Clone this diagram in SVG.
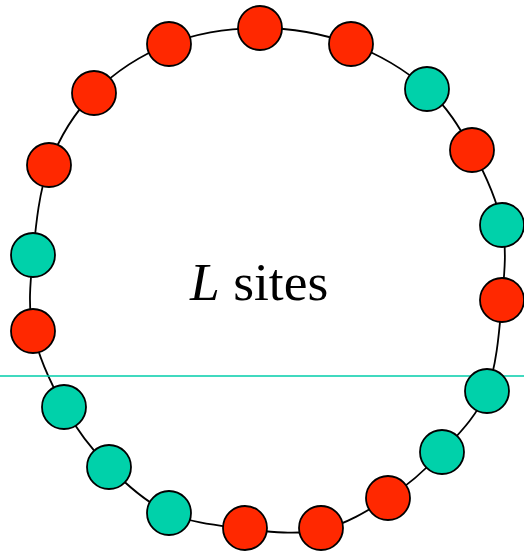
<svg xmlns="http://www.w3.org/2000/svg" width="524" height="553" viewBox="0 0 524 553">
<style>
.ring{fill:none;stroke:#000;stroke-width:1.8}
.site{stroke:#000;stroke-width:1.8}
.red{fill:#ff2800}
.teal{fill:#00d1aa}
.guide{stroke:#00ccaa;stroke-width:1.4}
.lbl{font-family:"Liberation Serif","Times New Roman",serif;font-size:53.5px;fill:#000}
</style>
<rect width="524" height="553" fill="#fff"/>
<g id="connectors">
<path class="ring" d="M260,28 C290.3,28 323.2,33.8 351,44 C378.8,54.2 406.8,71.3 427,89 C447.2,106.7 459.5,127.3 472,150 C484.5,172.7 497,200 502,225 C507,250 504.5,272.3 502,300 C499.5,327.7 497,365.7 487,391 C477,416.3 458.5,434.2 442,452 C425.5,469.8 408.2,485.3 388,498 C367.8,510.7 344.8,525 321,530 C297.2,535 270.3,532 245,529 C219.7,525.5 191.7,523.2 169,513 C146.3,502.8 126.5,484.7 109,467 C91.5,449.3 76.7,429.7 64,407 C51.3,384.3 38.2,356.3 33,331 C27.8,305.7 30.3,282.7 33,255 C35.7,227.3 38.8,192 49,165 C59.2,138 74,113.2 94,93 C114,72.8 141.3,54.8 169,44 C196.7,33.2 229.7,28 260,28 Z"/>
<line class="guide" x1="0" y1="376" x2="524" y2="376"/>
</g>
<g id="s1"><circle class="site red" cx="260" cy="28" r="22"/></g>
<g id="s2"><circle class="site red" cx="351" cy="44" r="22"/></g>
<g id="s3"><circle class="site teal" cx="427" cy="89" r="22"/></g>
<g id="s4"><circle class="site red" cx="472" cy="150" r="22"/></g>
<g id="s5"><circle class="site teal" cx="502" cy="225" r="22"/></g>
<g id="s6"><circle class="site red" cx="502" cy="300" r="22"/></g>
<g id="s7"><circle class="site teal" cx="487" cy="391" r="22"/></g>
<g id="s8"><circle class="site teal" cx="442" cy="452" r="22"/></g>
<g id="s9"><circle class="site red" cx="388" cy="498" r="22"/></g>
<g id="s10"><circle class="site red" cx="321" cy="528" r="22"/></g>
<g id="s11"><circle class="site red" cx="245" cy="528" r="22"/></g>
<g id="s12"><circle class="site teal" cx="169" cy="513" r="22"/></g>
<g id="s13"><circle class="site teal" cx="109" cy="467" r="22"/></g>
<g id="s14"><circle class="site teal" cx="64" cy="407" r="22"/></g>
<g id="s15"><circle class="site red" cx="33" cy="331" r="22"/></g>
<g id="s16"><circle class="site teal" cx="33" cy="255" r="22"/></g>
<g id="s17"><circle class="site red" cx="49" cy="165" r="22"/></g>
<g id="s18"><circle class="site red" cx="94" cy="93" r="22"/></g>
<g id="s19"><circle class="site red" cx="169" cy="44" r="22"/></g>
<g id="label"><text class="lbl" x="190" y="300"><tspan font-style="italic">L</tspan> sites</text></g>
</svg>
